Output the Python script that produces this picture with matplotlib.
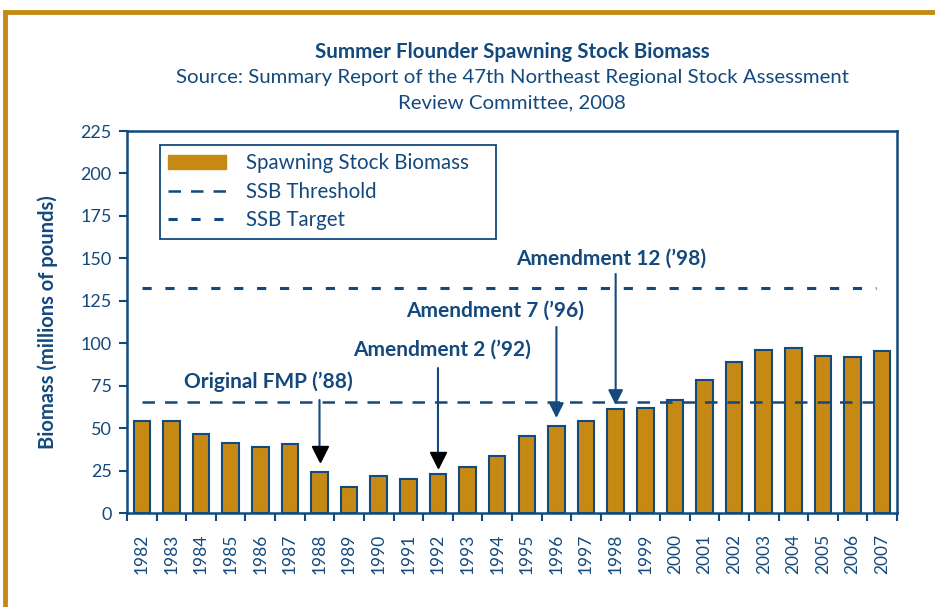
import matplotlib
matplotlib.use("Agg")
import matplotlib.pyplot as plt
from matplotlib.patches import Rectangle
from matplotlib.lines import Line2D
from matplotlib.patches import Patch

years = [str(y) for y in range(1982, 2008)]
ssb = [54, 54, 46.5, 41.5, 39, 40.5, 24, 15.5, 21.5, 20, 23, 27, 33.5, 45.5,
       51.5, 54, 61, 62, 66.5, 78.5, 89, 96, 97, 92.5, 92, 95.5]
threshold = 65.4
target = 132.4
annotations = [("Original FMP (\u201988)", "1988"), ("Amendment 2 (\u201992)", "1992"),
               ("Amendment 7 (\u201996)", "1996"), ("Amendment 12 (\u201998)", "1998")]
yticks = [0, 25, 50, 75, 100, 125, 150, 175, 200, 225]

BLUE = "#13497d"
GOLD = "#c68a14"
plt.rcParams['font.family'] = ['Lato', 'DejaVu Sans']

fig = plt.figure(figsize=(9.35, 6.07), dpi=100)
# orange frame
fig.patches.append(Rectangle((5/935, -0.1), 1.2, 1.1 - 12/607, transform=fig.transFigure,
                             fill=False, edgecolor=GOLD, linewidth=3.5, zorder=0))

ax = fig.add_axes([127/935, 1 - 513/607, (897-127)/935, (513-131)/607])
x = list(range(len(years)))
ax.bar(x, ssb, width=0.56, color=GOLD, edgecolor=BLUE, linewidth=1.5, zorder=2)
ax.set_xlim(-0.5, len(years) - 0.5)
ax.set_ylim(0, 225)
ax.set_yticks(yticks)
ax.set_yticklabels([str(t) for t in yticks])
ax.set_xticks(x)
ax.set_xticklabels(years, rotation=90)
ax.set_xticks([i - 0.5 for i in range(len(years) + 1)], minor=True)
ax.tick_params(axis='x', which='major', length=0, pad=15, labelsize=12.5, colors=BLUE)
ax.tick_params(axis='x', which='minor', length=6, width=1.5, color=BLUE, direction='out')
ax.tick_params(axis='y', length=6, width=1.5, color=BLUE, labelsize=13, labelcolor=BLUE, pad=5)
for s in ax.spines.values():
    s.set_color(BLUE)
    s.set_linewidth(1.8)

ax.plot([0, 24.8], [threshold, threshold], color=BLUE, lw=1.8, dashes=(5, 4), zorder=3)
ax.plot([0, 24.8], [target, target], color=BLUE, lw=2.2, dashes=(3, 4.5), zorder=3)

ax.set_ylabel("Biomass (millions of pounds)", fontsize=14.5, fontweight='bold', color=BLUE, labelpad=16)

ann_pos = [(382, 400, 462, "black"), (350, 368, 468, "black"), (311, 327, 418, BLUE), (259, 274, 405, BLUE)]
text_cx = [268, 442, 495, 611]
for (label, yr), (ty, y0, y1, hc), tcx in zip(annotations, ann_pos, text_cx):
    i = years.index(yr)
    def py(p):
        return (513 - p) / (513 - 131) * 225
    ax.annotate("", xy=(i, py(y1)), xytext=(i, py(y0)),
                arrowprops=dict(arrowstyle="-|>,head_length=0.9,head_width=0.45", color=BLUE, lw=1.5,
                                shrinkA=0, shrinkB=0), zorder=4)
    if hc == "black":
        ax.plot([i], [py(y1) + 4.5], marker='v', markersize=12, color='black', zorder=5, linestyle='none')
    tx = (tcx - 127) / 29.6 - 0.5
    ax.text(tx, py(ty), label, ha='center', va='center', fontsize=15, fontweight='bold', color=BLUE)

handles = [Patch(facecolor=GOLD, edgecolor=GOLD),
           Line2D([0], [0], color=BLUE, lw=1.8, dashes=(5, 4)),
           Line2D([0], [0], color=BLUE, lw=2.2, dashes=(3, 4.5))]
leg = ax.legend(handles, ["Spawning Stock Biomass", "SSB Threshold", "SSB Target"],
                loc='upper left', bbox_to_anchor=(33/770, 1 - 14/382, 336/770, 0), mode='expand',
                fontsize=14.8,
                frameon=True, fancybox=False, edgecolor=BLUE, handlelength=2.8, handletextpad=1.0,
                borderpad=0.4, labelspacing=0.42, labelcolor=BLUE, borderaxespad=0)
leg.get_frame().set_linewidth(1.3)
leg.get_frame().set_alpha(1)

fig.text(512/935, 1 - 52/607, "Summer Flounder Spawning Stock Biomass", ha='center', va='center',
         fontsize=14.8, fontweight='bold', color=BLUE)
fig.text(512/935, 1 - 78/607, "Source: Summary Report of the 47th Northeast Regional Stock Assessment",
         ha='center', va='center', fontsize=14.7, color=BLUE)
fig.text(512/935, 1 - 103/607, "Review Committee, 2008", ha='center', va='center', fontsize=14.7, color=BLUE)

fig.savefig("out.png", dpi=100)
